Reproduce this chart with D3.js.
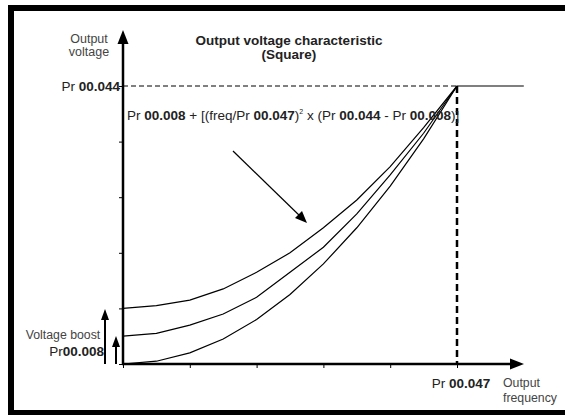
<!DOCTYPE html>
<html>
<head>
<meta charset="utf-8">
<script src="https://cdn.jsdelivr.net/npm/d3@7"></script>
<style>
  body { margin: 0; background: #fff; }
  svg text { font-family: "Liberation Sans", Arial, sans-serif; }
</style>
</head>
<body>
<script>
// frequency as a fraction of Pr 00.047, voltage as a fraction of Pr 00.044
const freqPoints = [0, 0.1, 0.2, 0.3, 0.4, 0.5, 0.6, 0.7, 0.8, 0.9, 1.0];
const boostNone = [0, 0.01, 0.04, 0.09, 0.16, 0.25, 0.36, 0.49, 0.64, 0.81, 1.0];
const boostLow = [0.1, 0.11, 0.14, 0.18, 0.24, 0.33, 0.42, 0.54, 0.68, 0.83, 1.0];
const boostHigh = [0.2, 0.21, 0.23, 0.27, 0.33, 0.40, 0.49, 0.59, 0.71, 0.85, 1.0];
const flatPart = [[1.0, 1.0], [1.2, 1.0]];
const tickValues = [0, 0.2, 0.4, 0.6, 0.8, 1.0];

const width = 565, height = 415;

const svg = d3.select("body").append("svg")
    .attr("width", width)
    .attr("height", height);

// outer frame (right side runs off the picture)
svg.append("path")
    .attr("d", "M570,8 L11,8 L11,413 L570,413")
    .style("fill", "none")
    .style("stroke", "#000")
    .style("stroke-width", 6);

const x = d3.scaleLinear().domain([0, 1]).range([123, 457]);
const y = d3.scaleLinear().domain([0, 1]).range([364, 86]);

// dashed guide lines
svg.append("line")
    .attr("x1", x(0)).attr("x2", x(1))
    .attr("y1", y(1)).attr("y2", y(1))
    .style("stroke", "#000")
    .style("stroke-width", 1)
    .style("stroke-dasharray", "5,3");
svg.append("line")
    .attr("x1", x(1)).attr("x2", x(1))
    .attr("y1", y(1)).attr("y2", y(0))
    .style("stroke", "#000")
    .style("stroke-width", 2.5)
    .style("stroke-dasharray", "7,4");

// axes ticks
svg.append("g")
    .attr("transform", "translate(0," + y(0) + ")")
    .call(d3.axisBottom(x).tickValues(tickValues).tickSize(4).tickFormat(""))
    .call(g => g.select(".domain").remove())
    .selectAll("line").style("stroke", "#000");
svg.append("g")
    .attr("transform", "translate(" + x(0) + ",0)")
    .call(d3.axisLeft(y).tickValues(tickValues).tickSize(4).tickFormat(""))
    .call(g => g.select(".domain").remove())
    .selectAll("line").style("stroke", "#000");

// axis lines with arrowheads
svg.append("line")
    .attr("x1", x(0)).attr("x2", x(0))
    .attr("y1", y(0) + 1).attr("y2", 40)
    .style("stroke", "#000").style("stroke-width", 2.5);
svg.append("path")
    .attr("d", "M" + x(0) + ",30 L" + (x(0) - 5.5) + ",44 L" + (x(0) + 5.5) + ",44 Z")
    .style("fill", "#000");
svg.append("line")
    .attr("x1", x(0) - 1).attr("x2", 512)
    .attr("y1", y(0)).attr("y2", y(0))
    .style("stroke", "#000").style("stroke-width", 2.5);
svg.append("path")
    .attr("d", "M524," + y(0) + " L510," + (y(0) - 5.5) + " L510," + (y(0) + 5.5) + " Z")
    .style("fill", "#000");

// curves
const line = d3.line()
    .x(d => x(d[0]))
    .y(d => y(d[1]))
    .curve(d3.curveLinear);

[boostNone, boostLow, boostHigh].forEach(series => {
    svg.append("path")
        .attr("d", line(freqPoints.map((f, i) => [f, series[i]])))
        .style("fill", "none")
        .style("stroke", "#000")
        .style("stroke-width", 1.2);
});
svg.append("path")
    .attr("d", line(flatPart))
    .style("fill", "none")
    .style("stroke", "#000")
    .style("stroke-width", 1.2);

// pointer arrow from the formula to the curves
svg.append("line")
    .attr("x1", 233).attr("y1", 151)
    .attr("x2", 302).attr("y2", 218)
    .style("stroke", "#000").style("stroke-width", 1.2);
svg.append("path")
    .attr("d", "M307,223 L295,218 L302,211 Z")
    .style("fill", "#000");

// voltage boost arrows
svg.append("line")
    .attr("x1", 105).attr("x2", 105).attr("y1", 364).attr("y2", 318)
    .style("stroke", "#000").style("stroke-width", 2);
svg.append("path")
    .attr("d", "M105,309 L101,320 L109,320 Z").style("fill", "#000");
svg.append("line")
    .attr("x1", 116).attr("x2", 116).attr("y1", 364).attr("y2", 345)
    .style("stroke", "#000").style("stroke-width", 2);
svg.append("path")
    .attr("d", "M116,336 L112,347 L120,347 Z").style("fill", "#000");

// texts
function addLabel(tx, ty, anchor, parts, size) {
    const t = svg.append("text")
        .attr("x", tx).attr("y", ty)
        .attr("text-anchor", anchor)
        .style("font-size", size + "px")
        .style("fill", "#222");
    parts.forEach(p => {
        const s = t.append("tspan").text(p.t);
        if (p.b) s.style("font-weight", "bold");
        if (p.sup) s.attr("dy", -6).style("font-size", "7px");
        if (p.down) s.attr("dy", 6);
    });
    return t;
}

addLabel(89, 43, "middle", [{ t: "Output" }], 12.5).style("fill", "#444");
addLabel(89, 56, "middle", [{ t: "voltage" }], 12.5).style("fill", "#444");

addLabel(289, 45, "middle", [{ t: "Output voltage characteristic", b: true }], 13.5);
addLabel(289, 59, "middle", [{ t: "(Square)", b: true }], 13.5);

addLabel(120, 91, "end", [{ t: "Pr " }, { t: "00.044", b: true }], 13.5);

addLabel(127, 120, "start", [
    { t: "Pr " }, { t: "00.008", b: true }, { t: " + [(freq/Pr " },
    { t: "00.047", b: true }, { t: ")" }, { t: "2", sup: true },
    { t: " x (Pr ", down: true }, { t: "00.044", b: true }, { t: " - Pr " },
    { t: "00.008", b: true }, { t: ")]" }
], 13.5);

addLabel(63, 339, "middle", [{ t: "Voltage boost" }], 12.3).style("fill", "#444");
addLabel(104, 356, "end", [{ t: "Pr" }, { t: "00.008", b: true }], 13.5);

addLabel(461, 388, "middle", [{ t: "Pr " }, { t: "00.047", b: true }], 13.5);
addLabel(503, 387, "start", [{ t: "Output" }], 12.3).style("fill", "#444");
addLabel(503, 402, "start", [{ t: "frequency" }], 12.3).style("fill", "#444");
</script>
</body>
</html>
